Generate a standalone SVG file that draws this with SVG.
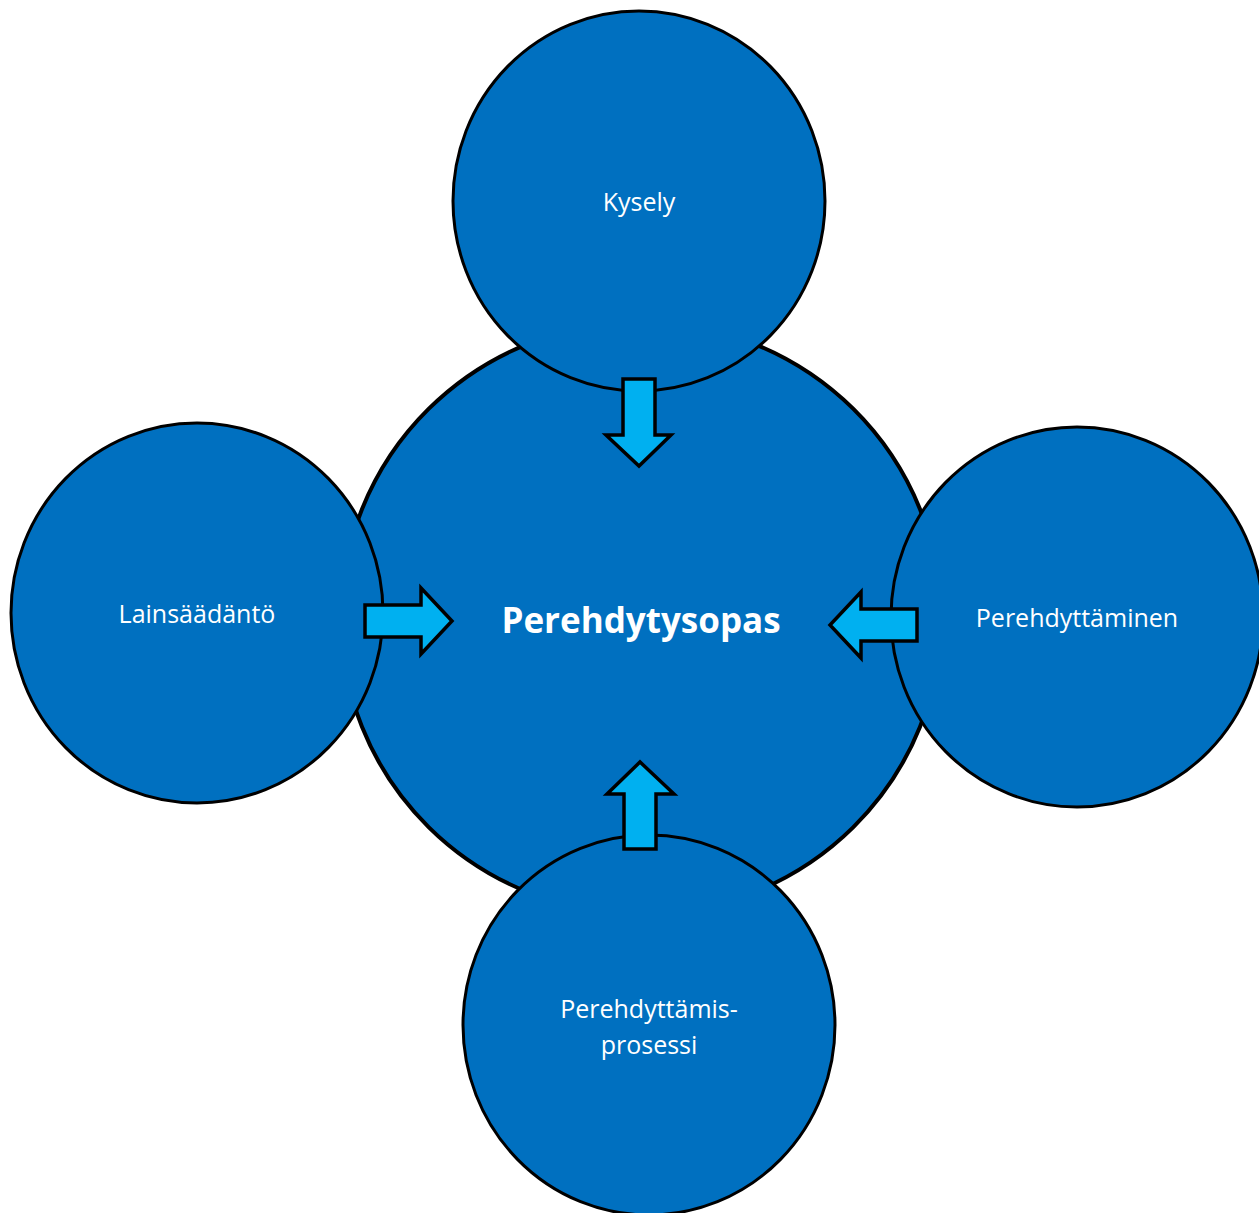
<svg xmlns="http://www.w3.org/2000/svg" width="1259" height="1213" viewBox="0 0 1259 1213">
  <style>
    .hub { fill: #0070C0; stroke: #000; stroke-width: 4; }
    .node { fill: #0070C0; stroke: #000; stroke-width: 3; }
    .arrow { fill: #00B0F0; stroke: #000; stroke-width: 3.5; stroke-linejoin: miter; }
    .label { fill: #fff; font-family: "Open Sans", "Noto Sans", "Liberation Sans", sans-serif; font-size: 25px; text-anchor: middle; }
    .title { fill: #fff; font-family: "Open Sans", "Noto Sans", "Liberation Sans", sans-serif; font-size: 35px; font-weight: bold; text-anchor: middle; }
  </style>
  <rect width="1259" height="1213" fill="#fff"/>

  <!-- central topic -->
  <g id="node-perehdytysopas">
    <ellipse class="hub" cx="641" cy="618" rx="300" ry="296"/>
  </g>

  <!-- surrounding sources -->
  <g id="node-kysely">
    <ellipse class="node" cx="639" cy="201" rx="186" ry="190"/>
    <text class="label" x="639" y="211">Kysely</text>
  </g>
  <g id="node-lainsaadanto">
    <ellipse class="node" cx="197" cy="613" rx="186" ry="190"/>
    <text class="label" x="197" y="623">Lainsäädäntö</text>
  </g>
  <g id="node-perehdyttaminen">
    <ellipse class="node" cx="1077" cy="617" rx="186" ry="190"/>
    <text class="label" x="1077" y="627">Perehdyttäminen</text>
  </g>
  <g id="node-prosessi">
    <ellipse class="node" cx="649" cy="1025" rx="186" ry="190"/>
    <text class="label" x="649" y="1018">Perehdyttämis-</text>
    <text class="label" x="649" y="1054">prosessi</text>
  </g>

  <!-- block arrows pointing into the centre -->
  <g id="connectors">
    <path class="arrow" d="M623,379 H655 V435 H671 L639,466 L606,435 H623 Z"/>
    <path class="arrow" d="M365,605 H421 V588 L452,621 L421,654 V637 H365 Z"/>
    <path class="arrow" d="M917,609 H861 V592 L830,625 L861,658 V641 H917 Z"/>
    <path class="arrow" d="M624,849 H656 V794 H674 L640,762 L607,794 H624 Z"/>
  </g>

  <text class="title" x="641" y="633">Perehdytysopas</text>
</svg>
